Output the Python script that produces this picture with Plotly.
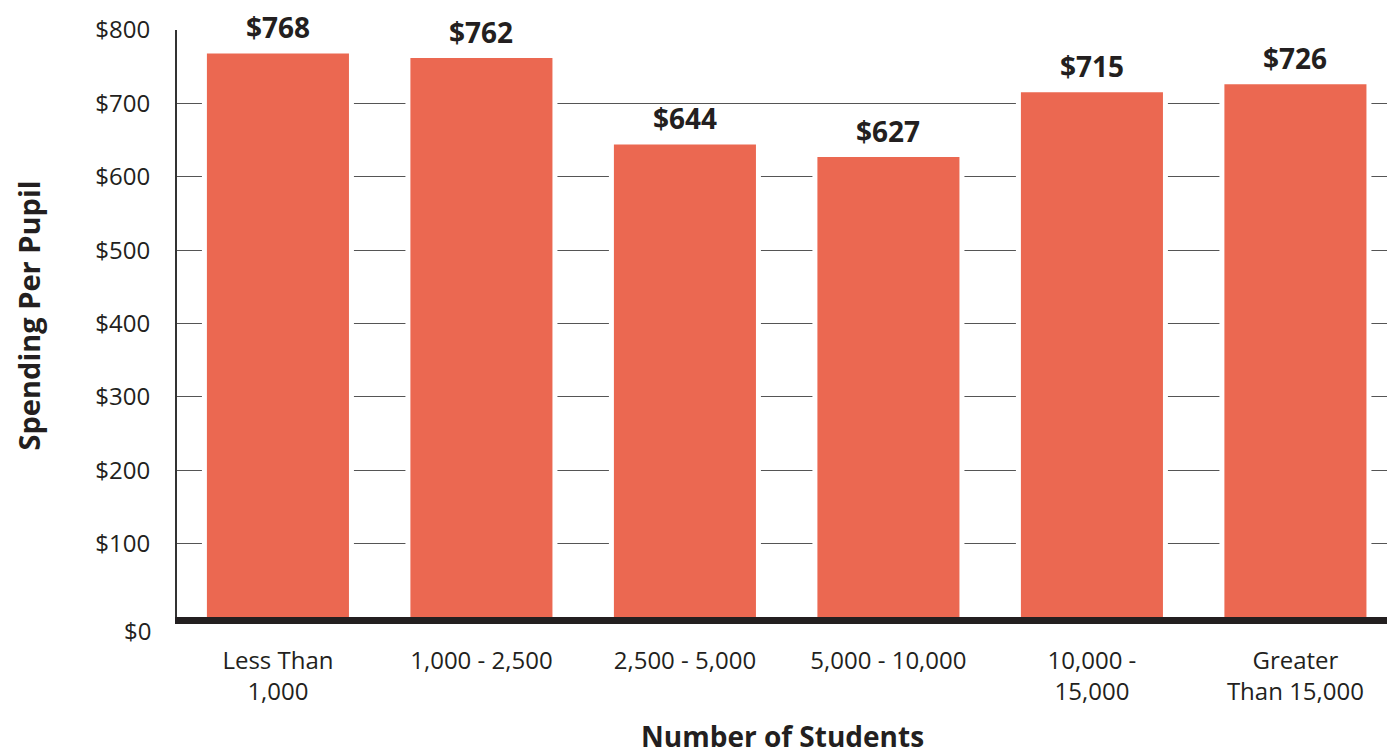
import plotly.graph_objects as go

# Average spending per pupil by district enrollment size
categories = ["Less Than<br>1,000", "1,000 - 2,500", "2,500 - 5,000",
              "5,000 - 10,000", "10,000 -<br>15,000", "Greater<br>Than 15,000"]
spending = [768, 762, 644, 627, 715, 726]
value_labels = ["$768", "$762", "$644", "$627", "$715", "$726"]

y_ticks = [100, 200, 300, 400, 500, 600, 700, 800]
y_tick_text = ["$100", "$200", "$300", "$400", "$500", "$600", "$700", "$800"]
grid_vals = [100, 200, 300, 400, 500, 600, 700]

BAR = "#EB6851"
INK = "#231F20"
FONT = "Open Sans"

fig = go.Figure()

# white backing bars leave a small gap between the gridlines and each bar
fig.add_trace(go.Bar(x=categories, y=spending, width=0.747,
                     marker=dict(color="white", line=dict(width=0)),
                     hoverinfo="skip", showlegend=False))
fig.add_trace(go.Bar(x=categories, y=spending, width=0.698,
                     marker=dict(color=BAR, line=dict(width=0)),
                     showlegend=False))
# carrier for the gridline axis (draws nothing)
fig.add_trace(go.Scatter(x=[categories[0]], y=[0], yaxis="y2", mode="markers",
                         marker=dict(opacity=0), hoverinfo="skip", showlegend=False))

for c, v, t in zip(categories, spending, value_labels):
    fig.add_annotation(x=c, y=v, text=f"<b>{t}</b>", showarrow=False,
                       yanchor="bottom", yshift=5,
                       font=dict(family=FONT, size=28, color=INK))

fig.add_annotation(x=0, xref="paper", y=0, yref="y", text="$0", showarrow=False,
                   xanchor="right", yanchor="middle", xshift=-24, yshift=-13,
                   font=dict(family=FONT, size=24, color=INK))

fig.add_annotation(x=0.5, xref="paper", y=-0.202, yref="paper",
                   xanchor="center", yanchor="middle",
                   text="<b>Number of Students</b>", showarrow=False,
                   font=dict(family=FONT, size=28, color=INK))
fig.add_annotation(x=-0.123, xref="paper", y=0.514, yref="paper",
                   xanchor="center", yanchor="middle",
                   text="<b>Spending Per Pupil</b>", textangle=-90, showarrow=False,
                   font=dict(family=FONT, size=29, color=INK))

fig.update_layout(
    width=1387, height=755,
    margin=dict(l=177, r=0, t=30, b=138, autoexpand=False),
    paper_bgcolor="white", plot_bgcolor="white",
    barmode="overlay",
    font=dict(family=FONT, size=24, color=INK),
    xaxis=dict(range=[-0.496, 5.45], showgrid=False, zeroline=False,
               showline=True, linewidth=7, linecolor=INK,
               ticks="", ticklabelstandoff=16,
               tickfont=dict(family=FONT, size=24, color=INK)),
    yaxis=dict(range=[0, 800], tickvals=y_ticks, ticktext=y_tick_text,
               showgrid=False, zeroline=False, showline=True, linewidth=2,
               linecolor="#333333", ticks="", ticklabelstandoff=20,
               tickfont=dict(family=FONT, size=24, color=INK)),
    yaxis2=dict(range=[0, 800], overlaying="y", side="left", tickvals=grid_vals,
                showticklabels=False, showgrid=True, gridcolor="#555555",
                gridwidth=1.4, zeroline=False, showline=False, ticks=""),
)

fig.write_html("out.html")
